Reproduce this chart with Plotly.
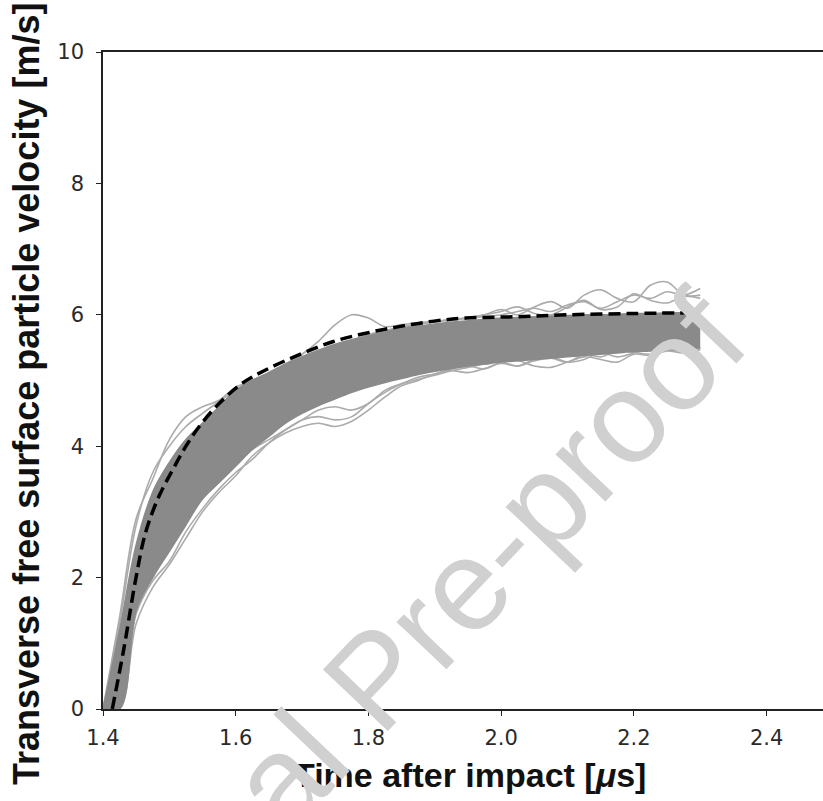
import plotly.graph_objects as go

# Time grid [µs]
t = [1.400, 1.425, 1.450, 1.475, 1.500, 1.525, 1.550, 1.575, 1.600, 1.625,
     1.650, 1.675, 1.700, 1.725, 1.750, 1.775, 1.800, 1.825, 1.850, 1.875,
     1.900, 1.925, 1.950, 1.975, 2.000, 2.025, 2.050, 2.075, 2.100, 2.125,
     2.150, 2.175, 2.200, 2.225, 2.250, 2.275, 2.300]

# Dense core of the ensemble (upper / lower edge) [m/s]
core_upper = [0.0, 1.2, 2.5, 3.3, 3.75, 4.1, 4.35, 4.6, 4.85, 5.0,
              5.12, 5.25, 5.36, 5.46, 5.55, 5.62, 5.68, 5.74, 5.79, 5.83,
              5.86, 5.89, 5.91, 5.93, 5.95, 5.96, 5.97, 5.98, 5.99, 6.0,
              6.0, 6.01, 6.02, 6.02, 6.03, 6.03, 6.04]
core_lower = [0.0, 0.0, 1.5, 2.0, 2.4, 2.8, 3.2, 3.45, 3.7, 3.95,
              4.15, 4.35, 4.5, 4.62, 4.72, 4.82, 4.9, 4.97, 5.03, 5.09,
              5.14, 5.18, 5.22, 5.25, 5.28, 5.3, 5.32, 5.34, 5.36, 5.38,
              5.4, 5.42, 5.44, 5.45, 5.47, 5.48, 5.5]

# Individual ensemble members visible outside the dense core
member_u1 = [0, 1.4, 2.9, 3.5, 4.1, 4.45, 4.6, 4.7, 4.9, 5.0, 5.12, 5.25, 5.36,
             5.46, 5.55, 5.62, 5.7, 5.76, 5.82, 5.86, 5.9, 5.92, 5.95, 5.97, 6.0,
             6.05, 6.1, 6.05, 6.15, 6.2, 6.1, 6.2, 6.3, 6.25, 6.35, 6.3, 6.4]
member_u2 = [0, 1.1, 2.4, 3.3, 3.75, 4.1, 4.35, 4.6, 4.85, 5.0, 5.12, 5.25, 5.4,
             5.6, 5.85, 6.0, 5.95, 5.82, 5.85, 5.88, 5.9, 5.92, 5.95, 6.0, 6.08,
             6.0, 6.12, 6.2, 6.1, 6.3, 6.38, 6.25, 6.2, 6.45, 6.5, 6.3, 6.3]
member_u3 = [0, 1.3, 2.8, 3.6, 4.0, 4.3, 4.5, 4.68, 4.85, 5.0, 5.1, 5.22, 5.33,
             5.43, 5.52, 5.6, 5.68, 5.75, 5.8, 5.85, 5.9, 5.93, 5.96, 6.0, 6.05,
             6.12, 6.02, 6.0, 6.12, 6.22, 6.08, 6.12, 6.32, 6.22, 6.18, 6.28, 6.25]
member_l1 = [0, 0.05, 1.3, 1.85, 2.2, 2.6, 3.0, 3.3, 3.55, 3.85, 4.05, 4.2, 4.3,
             4.35, 4.3, 4.38, 4.55, 4.75, 4.92, 5.0, 5.1, 5.15, 5.12, 5.18, 5.26,
             5.22, 5.32, 5.36, 5.28, 5.32, 5.42, 5.36, 5.42, 5.5, 5.46, 5.5, 5.48]
member_l2 = [0, 0.0, 1.45, 1.95, 2.25, 2.7, 3.05, 3.35, 3.6, 3.8, 4.05, 4.25, 4.4,
             4.45, 4.4, 4.45, 4.65, 4.82, 4.95, 5.05, 5.1, 5.18, 5.22, 5.18, 5.28,
             5.3, 5.22, 5.2, 5.28, 5.36, 5.32, 5.28, 5.4, 5.38, 5.45, 5.42, 5.47]
member_l3 = [0, 0.1, 1.6, 2.1, 2.45, 2.85, 3.2, 3.45, 3.7, 3.95, 4.1, 4.25, 4.4,
             4.55, 4.6, 4.55, 4.65, 4.85, 4.95, 5.02, 5.08, 5.15, 5.2, 5.25, 5.28,
             5.22, 5.3, 5.34, 5.28, 5.4, 5.36, 5.45, 5.43, 5.4, 5.46, 5.46, 5.5]
members = [member_u1, member_u2, member_u3, member_l1, member_l2, member_l3]

# Mean (dashed) curve
mean_t = [1.414, 1.432, 1.449, 1.464, 1.484, 1.505, 1.525, 1.545, 1.575, 1.610,
          1.645, 1.695, 1.746, 1.796, 1.846, 1.896, 1.947, 2.022, 2.100, 2.200,
          2.280]
mean_v = [0.0, 0.95, 1.96, 2.68, 3.23, 3.64, 4.0, 4.30, 4.65, 4.96,
          5.16, 5.39, 5.59, 5.72, 5.82, 5.90, 5.95, 5.97, 6.0, 6.02,
          6.03]

x_ticks = [1.4, 1.6, 1.8, 2.0, 2.2, 2.4]
x_tick_text = ["1.4", "1.6", "1.8", "2.0", "2.2", "2.4"]
y_ticks = [0, 2, 4, 6, 8, 10]

fig = go.Figure()

for m in members:
    fig.add_trace(go.Scatter(x=t, y=m, mode="lines", line=dict(color="#ababab", width=1.6, shape="spline"),
                             hoverinfo="skip", showlegend=False))

fig.add_trace(go.Scatter(x=t, y=core_lower, mode="lines", line=dict(color="#8a8a8a", width=1.5, shape="spline"),
                         showlegend=False))
fig.add_trace(go.Scatter(x=t, y=core_upper, mode="lines", line=dict(color="#8a8a8a", width=1.5, shape="spline"),
                         fill="tonexty", fillcolor="#8a8a8a", showlegend=False))

fig.add_trace(go.Scatter(x=mean_t, y=mean_v, mode="lines",
                         line=dict(color="black", width=3.5, dash="12px,6px", shape="spline"),
                         showlegend=False))

axis_common = dict(showgrid=False, zeroline=False, ticks="outside", ticklen=5, tickwidth=1.3,
                   tickcolor="#222", showline=True, linecolor="#222", linewidth=1.5,
                   tickfont=dict(family="DejaVu Sans", size=21, color="#2a2a2a"))

fig.update_layout(
    width=823, height=801,
    margin=dict(l=103, r=0, t=52, b=92),
    paper_bgcolor="white", plot_bgcolor="white",
    xaxis=dict(range=[1.4, 2.485], tickvals=x_ticks, ticktext=x_tick_text, mirror=True,
               ticklabelstandoff=4, **axis_common),
    yaxis=dict(range=[0, 10], tickvals=y_ticks, ticklabelstandoff=8, **axis_common),
    annotations=[
        dict(text="<b>Time after impact [<i>μ</i>s]</b>", xref="paper", yref="paper",
             x=(470 - 103) / 720, y=(709 - 775) / 657, showarrow=False,
             font=dict(family="Liberation Sans", size=34, color="#111"), xanchor="center", yanchor="middle"),
        dict(text="<b>Transverse free surface particle velocity [m/s]</b>", xref="paper", yref="paper",
             x=(26 - 103) / 720, y=(709 - 394) / 657, showarrow=False, textangle=-90,
             font=dict(family="Liberation Sans", size=36, color="#111"), xanchor="center", yanchor="middle"),
        dict(text="Journal Pre-proof", xref="paper", yref="paper",
             x=(375 - 103) / 720, y=(709 - 679) / 657, showarrow=False, textangle=-46.5,
             font=dict(family="Liberation Sans", size=130, color="#d0d0d0"), xanchor="center", yanchor="middle"),
    ],
)

fig.write_html("out.html")
